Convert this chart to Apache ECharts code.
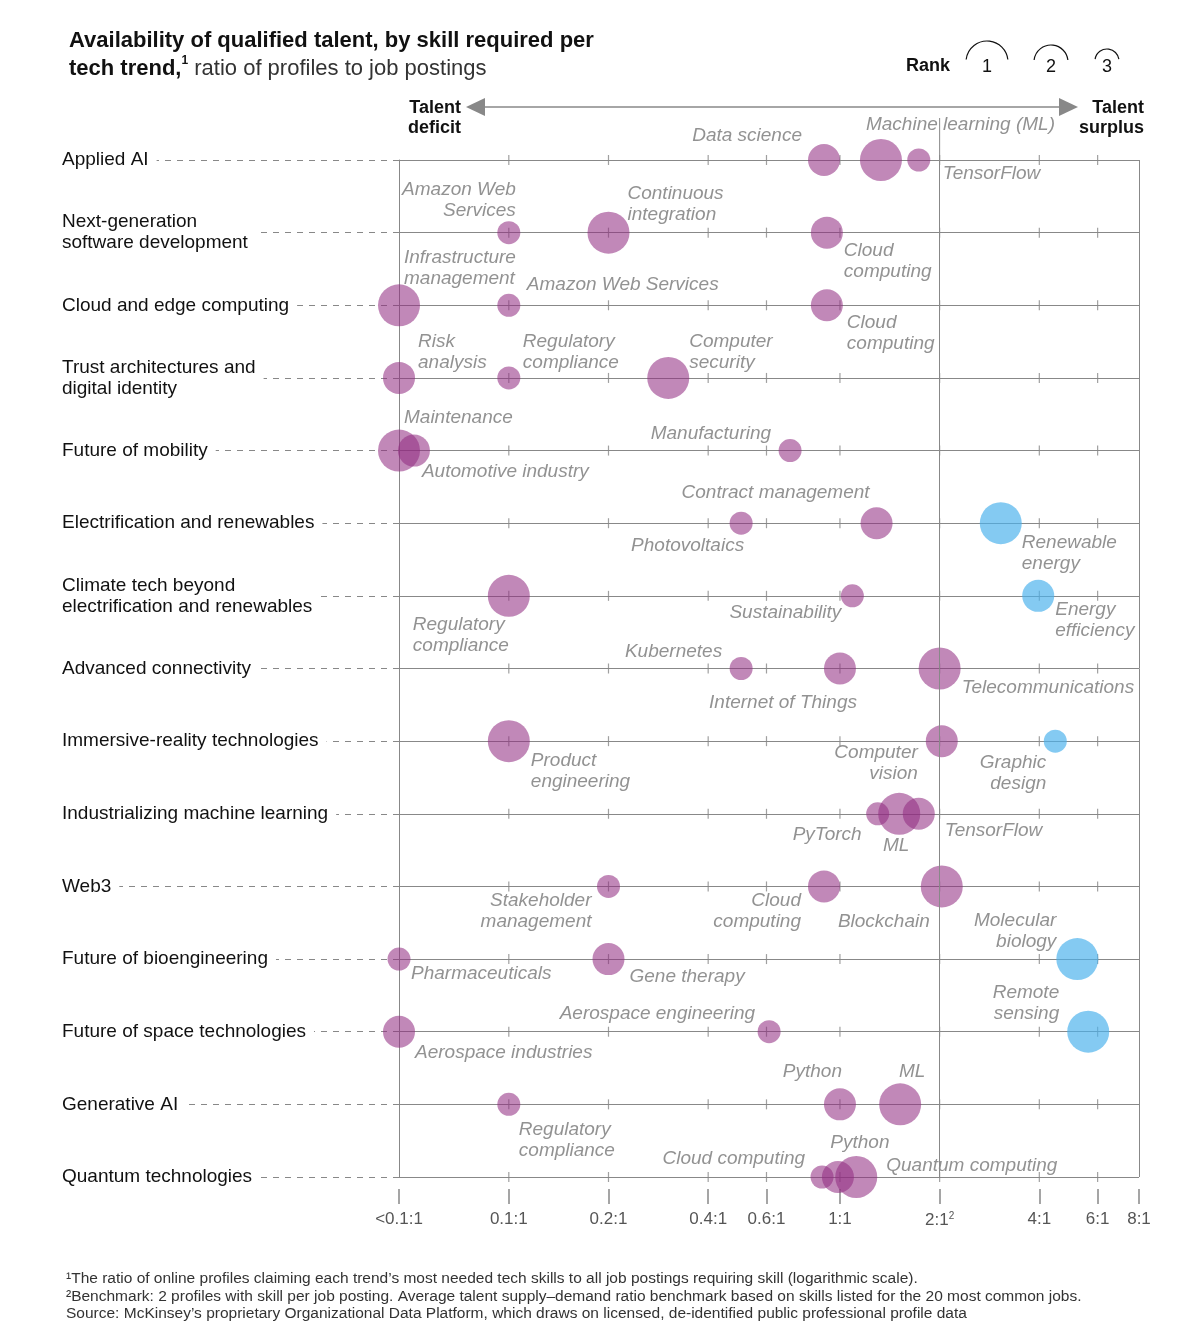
<!DOCTYPE html>
<html><head><meta charset="utf-8">
<script src="https://cdn.jsdelivr.net/npm/echarts@6/dist/echarts.min.js"></script>
<style>html,body{margin:0;padding:0;background:#fff}#c{width:1186px;height:1344px}</style>
</head><body><div id="c"></div>
<script>
const categories = ["Applied AI","Next-generation\nsoftware development","Cloud and edge computing","Trust architectures and\ndigital identity","Future of mobility","Electrification and renewables","Climate tech beyond\nelectrification and renewables","Advanced connectivity","Immersive-reality technologies","Industrializing machine learning","Web3","Future of bioengineering","Future of space technologies","Generative AI","Quantum technologies"];
const tickValues = [0.0466,0.1,0.2,0.4,0.6,1,2,4,6,8];
const tickLabels = ["<0.1:1","0.1:1","0.2:1","0.4:1","0.6:1","1:1","2:1{s|2}","4:1","6:1","8:1"];
// [row, skill, ratio, rank, surplus]
const skills = [
 [0,"Data science",0.895,2,0],[0,"Machine learning (ML)",1.33,1,0],[0,"TensorFlow",1.73,3,0],
 [1,"Amazon Web\nServices",0.1,3,0],[1,"Continuous\nintegration",0.2,1,0],[1,"Cloud\ncomputing",0.913,2,0],
 [2,"Infrastructure\nmanagement",0.0466,1,0],[2,"Amazon Web Services",0.1,3,0],[2,"Cloud\ncomputing",0.913,2,0],
 [3,"Risk\nanalysis",0.0466,2,0],[3,"Regulatory\ncompliance",0.1,3,0],[3,"Computer\nsecurity",0.303,1,0],
 [4,"Maintenance",0.0466,1,0],[4,"Automotive industry",0.0517,2,0],[4,"Manufacturing",0.707,3,0],
 [5,"Photovoltaics",0.503,3,0],[5,"Contract management",1.29,2,0],[5,"Renewable\nenergy",3.06,1,1],
 [6,"Regulatory\ncompliance",0.1,1,0],[6,"Sustainability",1.09,3,0],[6,"Energy\nefficiency",3.97,2,1],
 [7,"Kubernetes",0.503,3,0],[7,"Internet of Things",1.0,2,0],[7,"Telecommunications",2.0,1,0],
 [8,"Product\nengineering",0.1,1,0],[8,"Computer\nvision",2.03,2,0],[8,"Graphic\ndesign",4.47,3,1],
 [9,"PyTorch",1.30,3,0],[9,"ML",1.51,1,0],[9,"TensorFlow",1.73,2,0],
 [10,"Stakeholder\nmanagement",0.2,3,0],[10,"Cloud\ncomputing",0.895,2,0],[10,"Blockchain",2.03,1,0],
 [11,"Pharmaceuticals",0.0466,3,0],[11,"Gene therapy",0.2,2,0],[11,"Molecular\nbiology",5.21,1,1],
 [12,"Aerospace industries",0.0466,2,0],[12,"Aerospace engineering",0.611,3,0],[12,"Remote\nsensing",5.62,1,1],
 [13,"Regulatory\ncompliance",0.1,3,0],[13,"Python",1.0,2,0],[13,"ML",1.52,1,0],
 [14,"Cloud computing",0.883,3,0],[14,"Python",0.986,2,0],[14,"Quantum computing",1.12,1,0]
];
// label placement: [align, dx, dy]
const labelPlace = [
 ["right",-22,-24],["left",-15,-35],["left",24,14],
 ["right",7,-32],["left",19,-28],["left",17,29],
 ["left",5,-37],["left",18,-21],["left",20,28],
 ["left",19,-26],["left",14,-26],["left",21,-26],
 ["left",5,-33],["left",8,21],["right",-19,-17],
 ["right",3,23],["right",-7,-30],["left",21,30],
 ["left",-96,39],["right",-11,17],["left",17,24],
 ["right",-19,-17],["right",17,34],["left",22,19],
 ["left",22,30],["right",-24,22],["right",-9,32],
 ["right",-16,21],["center",-3,32],["left",26,17],
 ["right",-17,25],["right",-23,25],["right",-12,35],
 ["left",12,15],["left",21,18],["right",-21,-28],
 ["left",16,21],["right",-14,-18],["right",-29,-28],
 ["left",10,36],["right",2,-33],["center",12,-33],
 ["right",-17,-18],["center",22,-34],["left",30,-11]
];
const rankSize = {1:42,2:32,3:23};
const FONT = "'Liberation Sans', Arial, sans-serif";
const purple = 'rgba(145,42,128,0.7)', blue = 'rgba(75,178,236,0.85)';

const bubbleData = skills.map((s,i)=>{
  const p = labelPlace[i];
  return {value:[s[2],s[0]], symbolSize:rankSize[s[3]],
    itemStyle:{color:s[4]?blue:purple},
    label:{show:true, formatter:s[1], position:'inside', offset:[p[1],p[2]], align:p[0], verticalAlign:'middle'}};
});
const crossData = [];
categories.forEach((c,r)=>tickValues.slice(1,-1).forEach(v=>crossData.push([v,r])));

const chart = echarts.init(document.getElementById('c'));
chart.setOption({
  backgroundColor:'#fff',
  animation:false,
  textStyle:{fontFamily:FONT},
  title:{left:64, top:22, text:'Availability of qualified talent, by skill required per\n{b|tech trend,}{sup|1}{n| ratio of profiles to job postings}',
    textStyle:{fontFamily:FONT, fontSize:22, fontWeight:'bold', color:'#111', lineHeight:28,
      rich:{b:{fontSize:22,fontWeight:'bold',color:'#111',fontFamily:FONT},
            sup:{fontSize:12,fontWeight:'bold',color:'#111',verticalAlign:'top',padding:[0,0,10,0],fontFamily:FONT},
            n:{fontSize:22,fontWeight:'normal',color:'#333',fontFamily:FONT}}}},
  grid:{left:399, right:47, top:160, bottom:167},
  xAxis:{type:'log', logBase:10, min:0.0466, max:8, offset:12,
    axisLine:{show:false}, splitLine:{show:false},
    axisTick:{show:true, customValues:tickValues, length:15, lineStyle:{color:'#888',width:1.5}},
    axisLabel:{customValues:tickValues, margin:22, fontSize:17, color:'#555', fontFamily:FONT,
      formatter:(v)=>{const i=tickValues.findIndex(t=>Math.abs(t-v)<1e-6); return i>=0?tickLabels[i]:'';},
      rich:{s:{fontSize:10,color:'#555',verticalAlign:'top',padding:[0,0,8,0]}}}},
  yAxis:{type:'category', data:categories, inverse:true, boundaryGap:false,
    axisLine:{show:true, lineStyle:{color:'#888'}},
    splitLine:{show:true, lineStyle:{color:'#888'}},
    axisTick:{show:true, length:337, lineStyle:{color:'#888', type:[6,6]}},
    axisLabel:{margin:337, align:'left', fontSize:19, color:'#111', lineHeight:21, fontFamily:FONT,
      backgroundColor:'#fff', padding:[2,8,2,0]}},
  series:[
    {type:'scatter', data:crossData, symbol:'rect', symbolSize:[1.2,10], itemStyle:{color:'#888'}, silent:true, z:1,
     markLine:{silent:true, symbol:'none', label:{show:false}, lineStyle:{color:'#888', type:'solid', width:1},
       data:[{xAxis:2},{xAxis:8}]}},
    {type:'scatter', data:bubbleData, z:3,
     label:{fontStyle:'italic', fontSize:19, color:'#777', lineHeight:21, fontFamily:FONT}}
  ]
});
const x2 = chart.convertToPixel({xAxisIndex:0}, 2);
chart.setOption({graphic:[
  {type:'line', shape:{x1:x2,y1:118,x2:x2,y2:160}, style:{stroke:'#888',lineWidth:1}},
  {type:'line', shape:{x1:482,y1:107,x2:1062,y2:107}, style:{stroke:'#888',lineWidth:1.5}},
  {type:'polygon', shape:{points:[[466,107],[485,98],[485,116]]}, style:{fill:'#888'}},
  {type:'polygon', shape:{points:[[1078,107],[1059,98],[1059,116]]}, style:{fill:'#888'}},
  {type:'text', x:461, y:98, style:{text:'Talent\ndeficit', font:"bold 18px "+FONT, fill:'#111', align:'right', lineHeight:20}},
  {type:'text', x:1144, y:98, style:{text:'Talent\nsurplus', font:"bold 18px "+FONT, fill:'#111', align:'right', lineHeight:20}},
  {type:'text', x:906, y:57, style:{text:'Rank', font:"bold 18px "+FONT, fill:'#111'}},
  {type:'arc', shape:{cx:987,cy:62,r:21,startAngle:Math.PI+0.12,endAngle:2*Math.PI-0.12,clockwise:true}, style:{stroke:'#111',lineWidth:1.2,fill:null}},
  {type:'arc', shape:{cx:1051,cy:62,r:17,startAngle:Math.PI+0.12,endAngle:2*Math.PI-0.12,clockwise:true}, style:{stroke:'#111',lineWidth:1.2,fill:null}},
  {type:'arc', shape:{cx:1107,cy:61,r:12,startAngle:Math.PI+0.15,endAngle:2*Math.PI-0.15,clockwise:true}, style:{stroke:'#111',lineWidth:1.2,fill:null}},
  {type:'text', x:987, y:58, style:{text:'1', font:"18px "+FONT, fill:'#111', align:'center'}},
  {type:'text', x:1051, y:58, style:{text:'2', font:"18px "+FONT, fill:'#111', align:'center'}},
  {type:'text', x:1107, y:58, style:{text:'3', font:"18px "+FONT, fill:'#111', align:'center'}},
  {type:'text', x:66, y:1270, style:{text:'¹The ratio of online profiles claiming each trend\u2019s most needed tech skills to all job postings requiring skill (logarithmic scale).\n²Benchmark: 2 profiles with skill per job posting. Average talent supply\u2013demand ratio benchmark based on skills listed for the 20 most common jobs.\nSource: McKinsey\u2019s proprietary Organizational Data Platform, which draws on licensed, de-identified public professional profile data', font:"15.5px "+FONT, fill:'#333', lineHeight:17.5}}
]});
</script></body></html>
